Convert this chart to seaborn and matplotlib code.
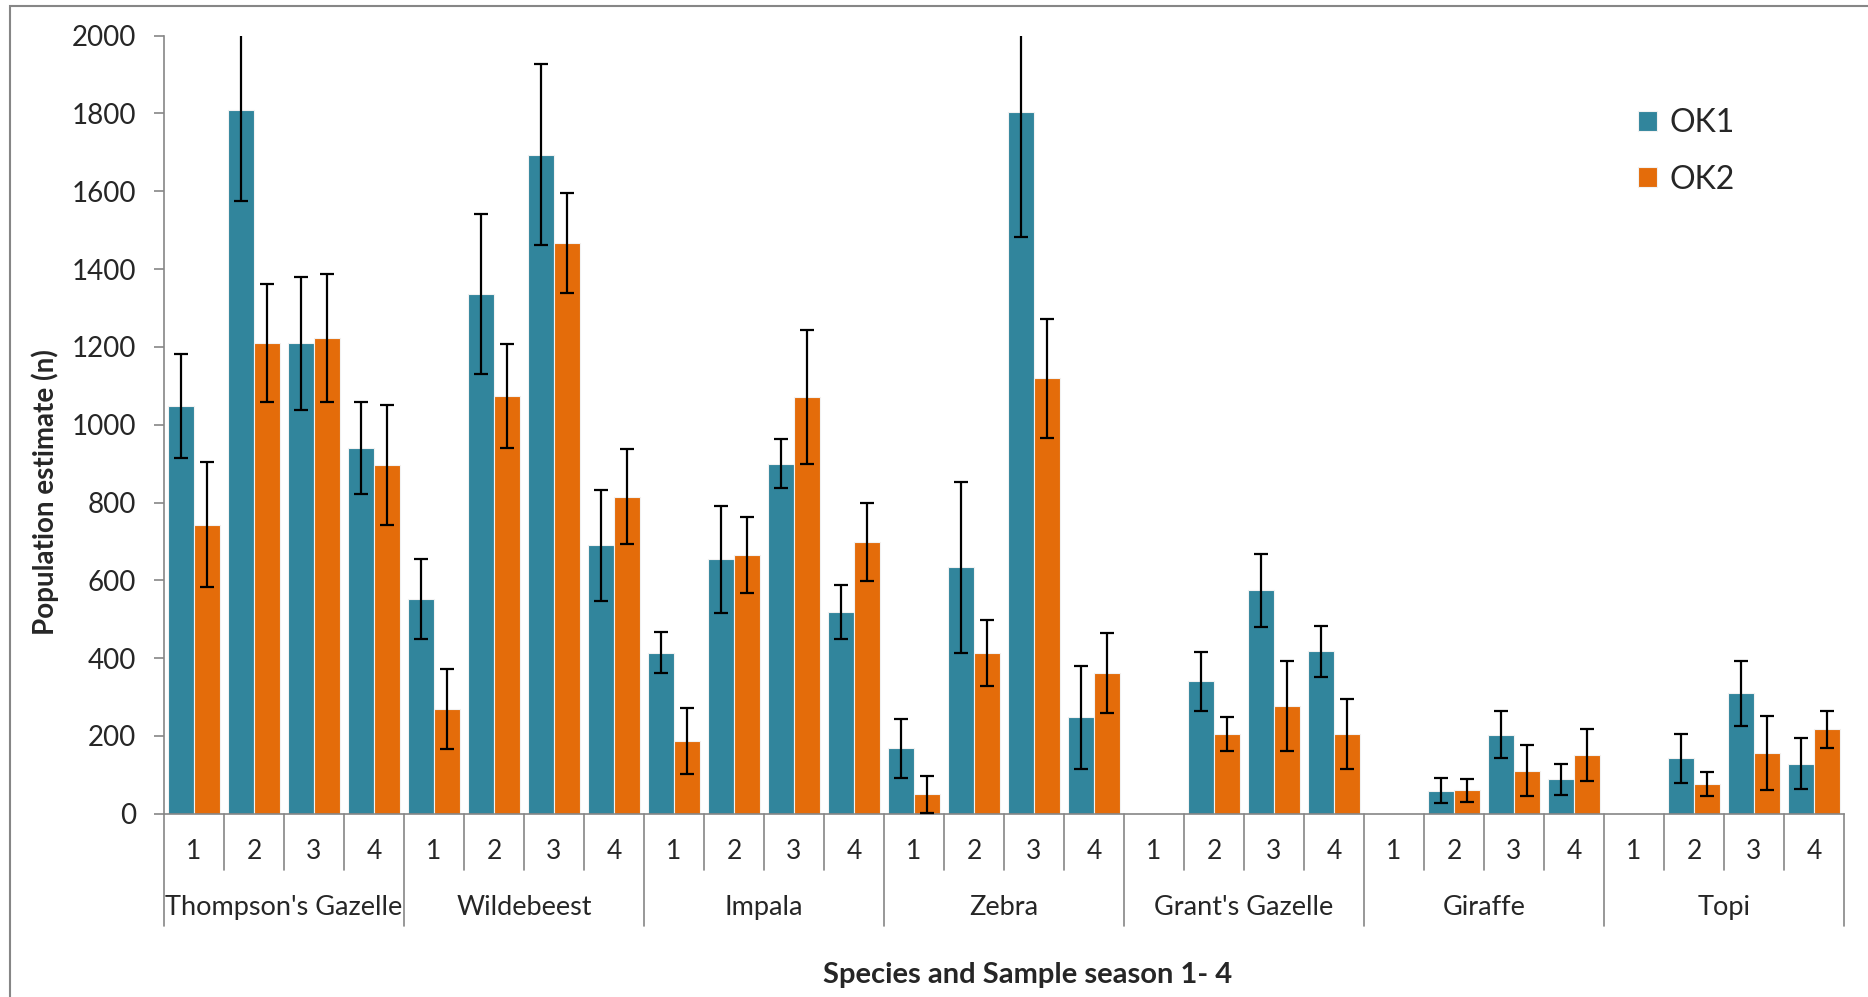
import matplotlib
matplotlib.use("Agg")
import matplotlib.pyplot as plt
import matplotlib.patches as mpatches
import seaborn as sns
import pandas as pd
import numpy as np

species = ["Thompson's Gazelle", "Wildebeest", "Impala", "Zebra",
           "Grant's Gazelle", "Giraffe", "Topi"]
seasons = ["1", "2", "3", "4"]
series_names = ["OK1", "OK2"]

ok1 = [1048, 1809, 1209, 941, 552, 1336, 1694, 690, 414, 654, 900, 518,
       168, 633, 1803, 248, 0, 340, 574, 417, 0, 59, 203, 89, 0, 142, 309, 129]
ok1_err = [133, 235, 171, 118, 103, 206, 233, 142, 52, 137, 64, 70,
           75, 220, 320, 132, 0, 75, 94, 65, 0, 32, 60, 40, 0, 63, 84, 66]
ok2 = [743, 1210, 1223, 896, 269, 1073, 1467, 815, 186, 666, 1072, 698,
       50, 413, 1120, 361, 0, 204, 276, 204, 0, 60, 111, 150, 0, 76, 156, 217]
ok2_err = [161, 151, 165, 155, 102, 134, 128, 122, 85, 98, 172, 100,
           48, 85, 153, 103, 0, 44, 116, 90, 0, 30, 65, 67, 0, 31, 94, 48]

colors = ["#31859C", "#E46C0A"]

sns.set_theme(style="white")
plt.rcParams['font.family'] = ['Lato', 'DejaVu Sans']

cats = [f"{sp}|{s}" for sp in species for s in seasons]
df = pd.DataFrame({
    "cat": cats * 2,
    "series": [series_names[0]] * len(cats) + [series_names[1]] * len(cats),
    "value": ok1 + ok2,
})
errs = {series_names[0]: ok1_err, series_names[1]: ok2_err}

W, H = 1868, 997
fig = plt.figure(figsize=(W / 100, H / 100), dpi=100)
ax = fig.add_axes([164 / W, 1 - 813.7 / H, (1844 - 164) / W, (813.7 - 35.7) / H])

sns.barplot(data=df, x="cat", y="value", hue="series", order=cats,
            hue_order=series_names, palette=colors, width=0.86,
            errorbar=None, ax=ax, edgecolor="#f2f2f2", linewidth=0.8,
            saturation=1)

for cont, name in zip(ax.containers, series_names):
    xs, ys, es = [], [], []
    for p, e in zip(cont.patches, errs[name]):
        if e > 0:
            xs.append(p.get_x() + p.get_width() / 2)
            ys.append(p.get_height())
            es.append(e)
    ax.errorbar(xs, ys, yerr=es, fmt="none", ecolor="black",
                elinewidth=1.6, capsize=4.8, capthick=1.6, zorder=5)

n = len(cats)
ax.set_xlim(-0.5, n - 0.5)
ax.set_ylim(0, 2000)
ax.set_yticks(np.arange(0, 2001, 200))
ax.tick_params(axis="y", which="major", left=True, length=7, width=1.2,
               color="#868686", labelsize=20, pad=13)
ax.set_xticks(range(n))
ax.set_xticklabels([c.split("|")[1] for c in cats], fontsize=19)
ax.tick_params(axis="x", length=0, pad=18)

for s in ["top", "right"]:
    ax.spines[s].set_visible(False)
for s in ["left", "bottom"]:
    ax.spines[s].set_color("#868686")
    ax.spines[s].set_linewidth(1.2)
ax.set_xlabel("")
ax.set_ylabel("")

trans = ax.get_xaxis_transform()
for b in range(n + 1):
    xb = b - 0.5
    ybot = -0.144 if b % 4 == 0 else -0.0723
    ax.plot([xb, xb], [0, ybot], transform=trans, color="#868686",
            lw=1.2, clip_on=False)
for gi, sp in enumerate(species):
    ax.text(gi * 4 + 1.5, -0.121, sp, transform=trans, ha="center",
            va="center", fontsize=19.5)

fig.text(1028 / W, 1 - 975 / H, "Species and Sample season 1- 4",
         ha="center", va="center", fontsize=21, fontweight="bold")
fig.text(45 / W, 1 - 492 / H, "Population estimate (n)", rotation=90,
         ha="center", va="center", fontsize=20, fontweight="bold")

leg = ax.legend(frameon=False, loc="upper left",
                bbox_to_anchor=(1638 / W, 1 - 108 / H),
                bbox_transform=fig.transFigure, fontsize=23,
                handlelength=0.58, handleheight=0.58, handletextpad=0.4,
                labelspacing=0.83, borderpad=0, borderaxespad=0)

fig.patches.append(mpatches.Rectangle((9.5 / W, -0.05), 1.2, 1.05 - 6.5 / H,
                                      transform=fig.transFigure, fill=False,
                                      edgecolor="#868686", lw=1.5))

fig.savefig("out.png", dpi=100, facecolor="white")
